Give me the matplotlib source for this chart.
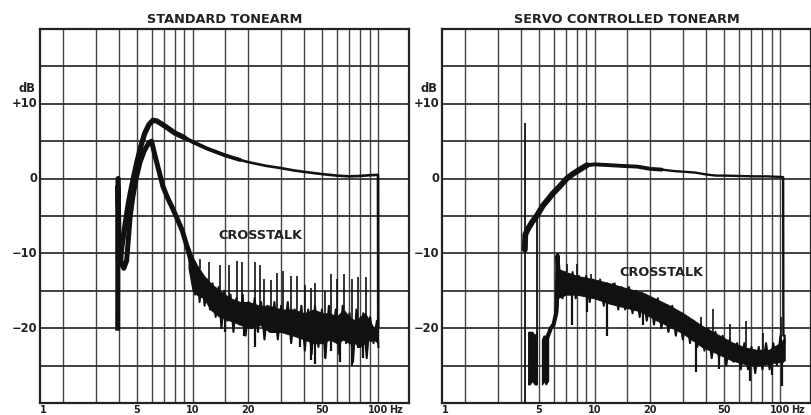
import numpy as np
import matplotlib
matplotlib.use("Agg")
import matplotlib.pyplot as plt

# ---------------- data ----------------
titles = ["STANDARD TONEARM", "SERVO CONTROLLED TONEARM"]
x_tick_vals = [5, 10, 20, 50, 100]
x_tick_labels = ["5", "10", "20", "50", "100"]
y_tick_vals = [10, 0, -10, -20]
y_tick_labels = ["+10", "0", "\u221210", "\u221220"]
x_grid = [2, 3, 4, 5, 6, 7, 8, 9, 10, 15, 20, 30, 40, 50, 60, 70, 80, 90, 100]
y_grid = [-25, -20, -15, -10, -5, 0, 5, 10, 15]

# Standard tonearm – main response
std_main_f = [3.96, 3.97, 4.05, 4.15, 4.3, 4.45, 4.6, 4.8, 5.0, 5.25, 5.5, 5.8, 6.1, 6.4,
              6.8, 7.3, 8.0, 9.0, 10, 12, 15, 18, 20, 25, 30, 35, 40, 50, 60, 70, 80,
              90, 100, 100.3]
std_main_db = [0, -11, -11.5, -9, -6.5, -4, -2, 0.2, 2.2, 4.3, 6.0, 7.2, 7.8, 7.7,
               7.3, 6.8, 6.1, 5.5, 4.9, 4.0, 3.1, 2.5, 2.2, 1.7, 1.4, 1.1, 0.9, 0.6, 0.4,
               0.3, 0.35, 0.45, 0.5, -20]
# Standard tonearm – crosstalk rise / fall
std_ct_f = [3.94, 3.95, 4.0, 4.1, 4.25, 4.4, 4.5, 4.6, 4.75, 4.95, 5.2, 5.5, 5.8, 6.0,
            6.2, 6.5, 6.9, 7.3, 7.8, 8.3, 8.8, 9.3, 9.8]
std_ct_db = [-20, -1, -7, -11, -12, -11, -8, -5, -2.5, 0, 2.2, 3.8, 4.8, 5.0,
             3.5, 1.5, -1, -2.5, -4, -5.5, -7, -9, -11]
# Standard tonearm – crosstalk noise band (envelope)
std_band_f = [9.5, 10, 10.5, 11.5, 12.5, 14, 16, 18, 20, 23, 26, 30, 35, 40, 45, 50,
              55, 60, 65, 70, 75, 80, 85, 90, 95, 100]
std_band_lo = [-12, -15, -15.5, -16, -17.5, -18.5, -19, -19.5, -20, -19.5, -20.5, -20.5, -21,
               -21.5, -22, -22, -21.5, -22, -21.5, -22, -22, -22.5, -22, -21.5, -21.5, -22]
std_band_hi = [-9, -10.5, -11.5, -13, -14, -15, -16, -16.5, -16.5, -17, -17, -17.5, -17.5,
               -18, -17.5, -18, -18, -18.5, -17.5, -18.5, -19, -18.5, -18, -19, -20, -19]
# Standard tonearm – crosstalk trace detail
std_jag_f = [10.0, 10.3, 10.6, 10.9, 11.2, 11.6, 12.0, 12.4, 12.8, 13.3, 13.8, 14.3, 14.8,
             15.4, 16.0, 16.6, 17.2, 17.9, 18.6, 19.3, 20.0, 20.8, 21.6, 22.5, 23.4, 24.4,
             25.4, 26.5, 27.6, 28.8, 30.0, 31.3, 32.6, 34.0, 35.5, 37.0, 38.6, 40.3, 42.0,
             43.8, 45.7, 47.7, 49.8, 52.0, 54.3, 56.7, 59.2, 61.8, 64.5, 67.3, 70.2, 73.3,
             76.5, 79.8, 83.3, 86.9, 90.7, 94.6, 98.7, 100.5]
std_jag_db = [-11, -15.5, -12, -16.5, -13, -17, -13.5, -17.5, -14, -18.5, -14.5, -20, -15,
              -19, -15.5, -20.5, -16, -19.5, -15.5, -21, -16.5, -20, -16, -20.5, -16.5, -21.5,
              -17, -20.5, -16.5, -21.5, -17, -20.5, -16.5, -22, -17.5, -21, -17, -23, -17.5,
              -23.5, -17, -22.5, -17.5, -24, -17, -21.5, -17.5, -23.5, -17, -22, -18, -24.5,
              -17.5, -22.5, -18, -24, -18.5, -22, -19, -22.5]
std_spike_f = [10.9, 12.3, 14.1, 15.8, 17.3, 18.4, 21.6, 23, 24.4, 26.5, 28.4, 30.7,
               33.8, 36.5, 40.3, 43.4, 46, 51.7, 55.7, 60, 65.5, 72, 78, 86]
std_spike_top = [-10.7, -11.1, -11.6, -11.6, -11, -11.1, -11.1, -11.6, -13.4, -13.6, -12.6,
                 -12.4, -13, -13, -14.2, -14.6, -14, -15, -12.7, -13.4, -12.7, -13.4, -13.2, -13.1]
std_dip_f = [15, 19, 21.6, 33.8, 38, 43.4, 46, 51.7, 56, 62, 67, 72, 78, 83, 92]
std_dip_bot = [-20.5, -21, -22.5, -21.4, -22.5, -24.3, -24.8, -24, -23, -24.5, -22, -25,
               -22.7, -24, -21.8]

# Servo tonearm – main response
srv_main_f = [4.2, 4.22, 4.37, 4.6, 4.89, 5.26, 5.6, 5.94, 6.5, 7.07, 7.6, 8.3, 9.1, 10,
              12, 14, 17, 20, 23, 27, 31, 35, 40, 45, 50, 60, 72, 85, 95, 104, 104.3]
srv_main_db = [-9.5, -7.5, -6.7, -5.8, -4.9, -3.6, -2.8, -2.0, -1.0, 0.0, 0.6, 1.2, 1.8,
               1.9, 1.8, 1.7, 1.6, 1.3, 1.2, 1.0, 0.9, 0.8, 0.55, 0.4, 0.4, 0.35, 0.3,
               0.3, 0.25, 0.2, -21]
# Servo – transient spike lines and low-frequency crosstalk
srv_spike_line_f = [4.2, 4.9]
srv_spike_line_lo = [-30, -27.5]
srv_spike_line_hi = [7.4, -5]
srv_dip1_f = [4.38, 4.45, 4.6, 4.75, 4.87]
srv_dip1_lo = [-27.5, -27.5, -27, -27.5, -27.5]
srv_dip1_hi = [-20.5, -20.5, -20.5, -21, -20.5]
srv_dip2_f = [5.2, 5.3, 5.45, 5.6]
srv_dip2_lo = [-27.5, -27, -27.5, -27]
srv_dip2_hi = [-21.5, -21, -21, -20.5]
srv_ct_f = [5.6, 5.8, 6.0, 6.2, 6.25, 6.3, 6.4]
srv_ct_db = [-21, -20, -19.5, -18, -17, -10.3, -13]
srv_band_f = [6.25, 7, 8, 10, 12, 15, 18, 21, 25, 30, 38, 45, 55, 65, 75, 87, 100, 106]
srv_band_lo = [-16.0, -15.5, -15.5, -16.0, -16.7, -17.3, -17.8, -18.8, -19.7, -20.7,
               -22.5, -23.3, -24.3, -24.8, -25.0, -24.7, -24.5, -24.3]
srv_band_hi = [-12.0, -12.5, -13.0, -13.5, -14.0, -14.7, -15.2, -16.0, -16.9, -18.0,
               -19.7, -20.7, -21.9, -22.6, -22.9, -22.9, -22.0, -21.3]
srv_jag_f = [6.4, 6.7, 7.0, 7.3, 7.6, 7.9, 8.2, 8.6, 9.0, 9.4, 9.8, 10.2, 10.7, 11.2, 11.7,
             12.2, 12.8, 13.4, 14.0, 14.6, 15.3, 16.0, 16.7, 17.5, 18.3, 19.1, 20.0, 20.9,
             21.9, 22.9, 23.9, 25.0, 26.2, 27.4, 28.6, 29.9, 31.3, 32.7, 34.2, 35.8, 37.4,
             39.1, 40.9, 42.8, 44.8, 46.9, 49.0, 51.3, 53.6, 56.1, 58.7, 61.4, 64.2, 67.2,
             70.2, 73.5, 76.8, 80.4, 84.1, 87.9, 92.0, 96.2, 100.6, 104, 106]
srv_jag_db = [-12, -16, -12.5, -15.5, -12.5, -16, -13, -15.5, -13, -16.5, -13.5, -16,
              -13.5, -17, -14, -16.5, -14, -17.5, -14.5, -17.5, -14.5, -18, -15, -18.5,
              -15.5, -19, -16, -19.5, -16, -20, -17, -20.5, -17, -21, -18, -21.5, -18.5,
              -22, -19, -22.5, -19.5, -23, -20, -24, -20.5, -24, -21, -25, -21.5, -24.5,
              -22, -25.5, -22, -25.5, -22.5, -26, -22.5, -25.5, -22, -25.5, -22, -25,
              -21, -24.5, -21]
srv_spike_f = [6.31, 7.06, 8.0, 9.6, 12.6, 19.0, 29.9, 37.5, 43.3, 53.4, 65.6, 80.5, 101]
srv_spike_top = [-10, -11.4, -11.4, -12.7, -14, -16, -18.3, -18.5, -17.4, -19.4, -19,
                 -20.7, -18.5]
srv_dip_spike_f = [7.5, 9.1, 11.6, 18.2, 35.4, 47, 68.5, 90.6, 102]
srv_dip_spike_bot = [-19.6, -17.8, -21, -19.6, -25.8, -25.4, -27.1, -26.3, -27.7]

# ---------------- figure ----------------
W, H = 811, 415
fig = plt.figure(figsize=(W / 100, H / 100), dpi=100)
fig.patch.set_facecolor("white")

INK = "#111111"
FONT = dict(family="DejaVu Sans", weight="bold", color="#222222")


def setup_axes(ax, title):
    ax.set_xscale("log")
    ax.set_xlim(1.5, 147)
    ax.set_ylim(-30, 20)
    ax.set_xticks([])
    ax.set_yticks([])
    ax.minorticks_off()
    for s in ax.spines.values():
        s.set_linewidth(1.6)
        s.set_color("#222222")
    for xv in x_grid:
        ax.axvline(xv, color="#444444", lw=1.0, zorder=1)
    for yv in y_grid:
        ax.axhline(yv, color="#333333", lw=1.3, zorder=1)
    ax.set_title(title, fontsize=9.3, pad=4, **FONT)
    tr = ax.get_xaxis_transform()
    yb = -0.0045
    ax.text(1.5, yb, "1", transform=tr, ha="left", va="top", fontsize=7.0, **FONT)
    for xv, lab in zip(x_tick_vals, x_tick_labels):
        ax.text(xv, yb, lab, transform=tr, ha="center", va="top", fontsize=7.0, **FONT)
    ax.text(115, yb, "Hz", transform=tr, ha="left", va="top", fontsize=7.0, **FONT)
    ty = ax.get_yaxis_transform()
    for yv, lab in zip(y_tick_vals, y_tick_labels):
        ax.text(-0.008, yv, lab, transform=ty, ha="right", va="center", fontsize=8.3, **FONT)
    ax.text(-0.012, 12, "dB", transform=ty, ha="right", va="center", fontsize=8.3, **FONT)


def thick_line(ax, f, db, splits, widths):
    f = np.asarray(f)
    db = np.asarray(db)
    edges = [0] + splits + [1e9]
    for i, w in enumerate(widths):
        idx = np.where((f >= edges[i]) & (f <= edges[i + 1]))[0]
        if len(idx) == 0:
            continue
        a, b = idx[0], idx[-1]
        a = max(a - 1, 0)
        b = min(b + 1, len(f) - 1)
        ax.plot(f[a:b + 1], db[a:b + 1], color=INK, lw=w, solid_capstyle="round",
                solid_joinstyle="round", zorder=4)


def band(ax, bf, blo, bhi, jf, jdb, sf, stop, df, dbot):
    ax.fill_between(bf, blo, bhi, color=INK, lw=0.8, edgecolor=INK, zorder=3)
    ax.plot(jf, jdb, color=INK, lw=1.5, zorder=3)
    lf = np.log10(bf)
    base_hi = np.interp(np.log10(sf), lf, bhi)
    ax.vlines(sf, base_hi, stop, color=INK, lw=1.2, zorder=3)
    base_lo = np.interp(np.log10(df), lf, blo)
    ax.vlines(df, dbot, base_lo, color=INK, lw=1.6, zorder=3)


ax1 = fig.add_axes([40 / W, 12 / H, 369 / W, 374 / H])
setup_axes(ax1, titles[0])
thick_line(ax1, std_main_f, std_main_db, [8.0, 15.0], [3.8, 2.8, 1.9])
ax1.plot(std_ct_f, std_ct_db, color=INK, lw=3.6, solid_joinstyle="round", zorder=4)
band(ax1, std_band_f, std_band_lo, std_band_hi, std_jag_f, std_jag_db,
     std_spike_f, std_spike_top, std_dip_f, std_dip_bot)
ax1.text(23.3, -7.6, "CROSSTALK", ha="center", va="center", fontsize=9.3, zorder=5, **FONT)

ax2 = fig.add_axes([442 / W, 12 / H, 369 / W, 374 / H])
setup_axes(ax2, titles[1])
thick_line(ax2, srv_main_f, srv_main_db, [9.0, 20.0], [4.2, 2.8, 1.7])
ax2.vlines(srv_spike_line_f, srv_spike_line_lo, srv_spike_line_hi, color=INK, lw=1.3, zorder=4)
ax2.fill_between(srv_dip1_f, srv_dip1_lo, srv_dip1_hi, color=INK, lw=1.0, zorder=4)
ax2.fill_between(srv_dip2_f, srv_dip2_lo, srv_dip2_hi, color=INK, lw=1.0, zorder=4)
ax2.plot(srv_ct_f, srv_ct_db, color=INK, lw=3.0, zorder=4)
band(ax2, srv_band_f, srv_band_lo, srv_band_hi, srv_jag_f, srv_jag_db,
     srv_spike_f, srv_spike_top, srv_dip_spike_f, srv_dip_spike_bot)
ax2.text(22.8, -12.6, "CROSSTALK", ha="center", va="center", fontsize=9.3, zorder=5, **FONT)

fig.savefig("out.png", dpi=100, facecolor="white")
